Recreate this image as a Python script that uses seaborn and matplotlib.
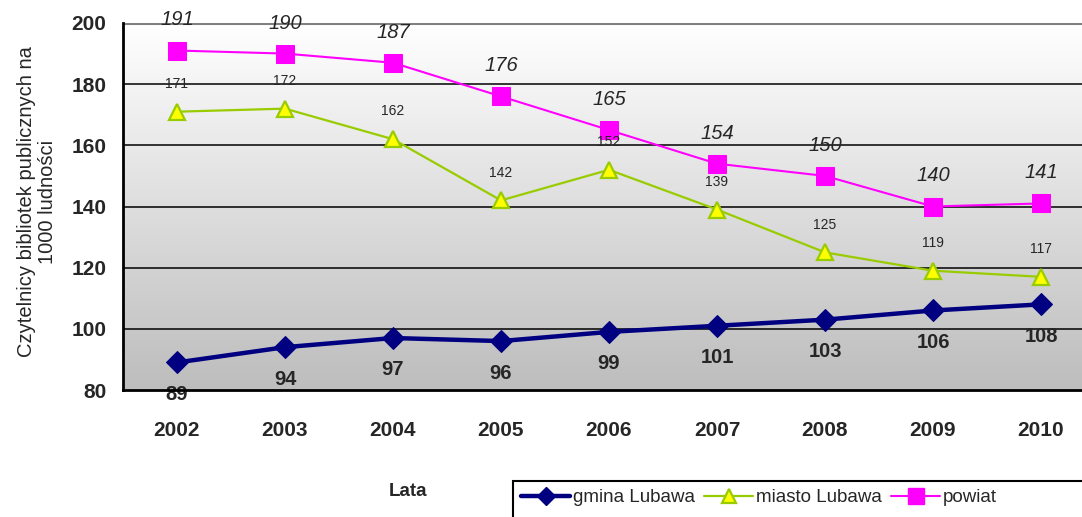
import matplotlib
matplotlib.use("Agg")
import matplotlib.pyplot as plt
import numpy as np
import pandas as pd
import seaborn as sns
from matplotlib.lines import Line2D
from matplotlib.patches import Rectangle

years = [2002, 2003, 2004, 2005, 2006, 2007, 2008, 2009, 2010]
gmina = [89, 94, 97, 96, 99, 101, 103, 106, 108]
miasto = [171, 172, 162, 142, 152, 139, 125, 119, 117]
powiat = [191, 190, 187, 176, 165, 154, 150, 140, 141]
series_names = ["gmina Lubawa", "miasto Lubawa", "powiat"]
y_ticks = [80, 100, 120, 140, 160, 180, 200]

sns.set_style("white")
plt.rcParams["font.family"] = ["Liberation Sans", "DejaVu Sans"]

fig = plt.figure(figsize=(10.82, 5.17), dpi=100)
ax = fig.add_axes([123 / 1082, 1 - 390 / 517, 972 / 1082, 367 / 517])

# gradient plot area: white at top -> grey at bottom
grad = np.linspace(0, 1, 256).reshape(-1, 1)
cmap = matplotlib.colors.LinearSegmentedColormap.from_list("bg", ["#ffffff", "#bdbdbd"])
ax.imshow(grad, extent=[2001.5, 2010.5, 80, 200], aspect="auto", cmap=cmap,
          zorder=0, origin="upper")

for y in y_ticks[1:-1]:
    ax.axhline(y, color="black", lw=1.1, zorder=1)
ax.axhline(200, color="#808080", lw=2.2, zorder=1)

df_g = pd.DataFrame({"rok": years, "val": gmina})
df_m = pd.DataFrame({"rok": years, "val": miasto})
df_p = pd.DataFrame({"rok": years, "val": powiat})

sns.lineplot(data=df_g, x="rok", y="val", ax=ax, color="#000080", lw=3.2,
             marker="D", markersize=11, markeredgecolor="#000080", zorder=4)
sns.lineplot(data=df_m, x="rok", y="val", ax=ax, color="#99cc00", lw=1.6,
             marker="^", markersize=12, markerfacecolor="#ffff00",
             markeredgecolor="#99cc00", markeredgewidth=1.6, zorder=3)
sns.lineplot(data=df_p, x="rok", y="val", ax=ax, color="#ff00ff", lw=1.5,
             marker="s", markersize=13, markerfacecolor="#ff00ff",
             markeredgecolor="#ff00ff", zorder=3)

for x, v in zip(years, powiat):
    ax.annotate(str(v), (x, v), xytext=(0, 22), textcoords="offset points",
                ha="center", va="center", fontsize=14.5, style="italic", zorder=5)
for x, v in zip(years, miasto):
    ax.annotate(str(v), (x, v), xytext=(0, 20), textcoords="offset points",
                ha="center", va="center", fontsize=10, zorder=5)
for x, v in zip(years, gmina):
    ax.annotate(str(v), (x, v), xytext=(0, -23), textcoords="offset points",
                ha="center", va="center", fontsize=14.5, fontweight="bold",
                zorder=5, annotation_clip=False)

ax.set_xlim(2001.5, 2010.5)
ax.set_ylim(80, 200)
ax.set_yticks(y_ticks)
ax.set_yticklabels([str(t) for t in y_ticks], fontsize=15, fontweight="bold")
ax.set_xticks(years)
ax.set_xticklabels([str(y) for y in years], fontsize=15, fontweight="bold")
ax.set_xticks(np.arange(2001.5, 2010.6, 1), minor=True)
ax.tick_params(axis="x", which="major", length=0, pad=22)
ax.tick_params(axis="x", which="minor", length=6, width=1.5, direction="out", color="black")
ax.tick_params(axis="y", which="major", length=6, width=1.5, direction="out", pad=6, color="black")

for s in ["top", "right"]:
    ax.spines[s].set_visible(False)
for s in ["left", "bottom"]:
    ax.spines[s].set_color("black")
    ax.spines[s].set_linewidth(2)
    ax.spines[s].set_zorder(6)

ax.set_xlabel("")
ax.set_ylabel("")
fig.text(408 / 1082, 1 - 492 / 517, "Lata", ha="center", va="center",
         fontsize=13.5, fontweight="bold")
fig.text(37 / 1082, 1 - 202 / 517, "Czytelnicy bibliotek publicznych na\n1000 ludności",
         ha="center", va="center", rotation=90, fontsize=14.5, linespacing=1.15)

handles = [
    Line2D([], [], color="#000080", lw=3.2, marker="D", markersize=9),
    Line2D([], [], color="#99cc00", lw=1.6, marker="^", markersize=10,
           markerfacecolor="#ffff00", markeredgecolor="#99cc00", markeredgewidth=1.6),
    Line2D([], [], color="#ff00ff", lw=1.5, marker="s", markersize=11),
]
leg = fig.legend(handles, series_names, loc="upper left", ncol=3,
                 bbox_to_anchor=(512 / 1082, 1 - 480 / 517), fontsize=13.5,
                 frameon=False, handlelength=2.6, handletextpad=0.15,
                 columnspacing=0.5, borderpad=0.5, borderaxespad=0)

# legend box runs past the right and bottom edge, as in the source
fig.patches.append(Rectangle((513 / 1082, -0.05), 600 / 1082, 1 - 481 / 517 + 0.05,
                             transform=fig.transFigure, fill=False,
                             edgecolor="black", lw=1.5))

fig.savefig("out.png", dpi=100)
